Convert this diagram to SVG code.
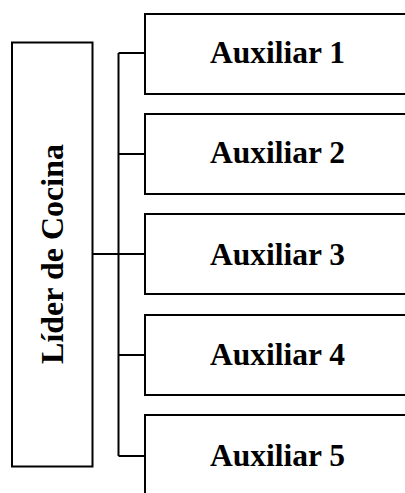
<svg xmlns="http://www.w3.org/2000/svg" width="405" height="493" viewBox="0 0 405 493">
  <style>
    .box { fill: #ffffff; stroke: #000000; stroke-width: 2; }
    .wire { fill: none; stroke: #000000; stroke-width: 2; }
    .lbl { font-family: "Liberation Serif", "Times New Roman", serif; font-weight: bold; fill: #000000; }
  </style>
  <rect width="405" height="493" fill="#ffffff"/>

  <!-- connectors -->
  <g id="connectors" class="wire">
    <path d="M92 254 H118.5"/>
    <path d="M118.5 53 V456"/>
    <path d="M118.5 53 H145"/>
    <path d="M118.5 154 H145"/>
    <path d="M118.5 254 H145"/>
    <path d="M118.5 355 H145"/>
    <path d="M118.5 456 H145"/>
  </g>

  <!-- head node -->
  <g id="lider">
    <rect class="box" x="12" y="42.5" width="80.5" height="424"/>
    <text class="lbl" font-size="32" text-anchor="middle" transform="translate(62.5 254) rotate(-90)">Líder de Cocina</text>
  </g>

  <!-- assistant nodes -->
  <g id="aux1">
    <rect class="box" x="145" y="14" width="270" height="80"/>
    <text class="lbl" font-size="31.5" x="210" y="63">Auxiliar 1</text>
  </g>
  <g id="aux2">
    <rect class="box" x="145" y="114" width="270" height="80"/>
    <text class="lbl" font-size="31.5" x="210" y="163">Auxiliar 2</text>
  </g>
  <g id="aux3">
    <rect class="box" x="145" y="214" width="270" height="80"/>
    <text class="lbl" font-size="31.5" x="210" y="265">Auxiliar 3</text>
  </g>
  <g id="aux4">
    <rect class="box" x="145" y="315" width="270" height="80"/>
    <text class="lbl" font-size="31.5" x="210" y="365">Auxiliar 4</text>
  </g>
  <g id="aux5">
    <rect class="box" x="145" y="415" width="270" height="90"/>
    <text class="lbl" font-size="31.5" x="210" y="466">Auxiliar 5</text>
  </g>
</svg>
